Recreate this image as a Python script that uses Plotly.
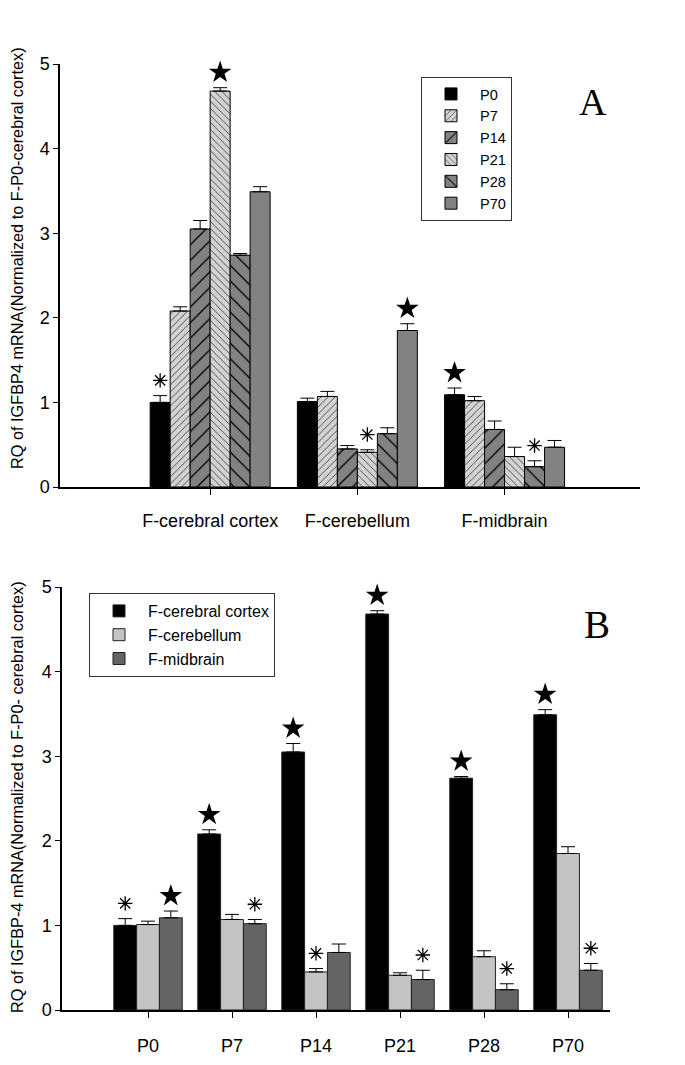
import plotly.graph_objects as go

# panel A: regions on the axis, one trace per age
regions = ["F-cerebral cortex", "F-cerebellum", "F-midbrain"]
ages = ["P0", "P7", "P14", "P21", "P28", "P70"]

# rows = region, cols = age
rq = [
    [1.00, 2.08, 3.05, 4.68, 2.74, 3.49],
    [1.01, 1.07, 0.45, 0.41, 0.63, 1.85],
    [1.09, 1.02, 0.68, 0.36, 0.24, 0.47],
]
err = [
    [0.08, 0.05, 0.10, 0.04, 0.02, 0.06],
    [0.04, 0.06, 0.04, 0.03, 0.07, 0.08],
    [0.08, 0.05, 0.10, 0.11, 0.07, 0.08],
]

# significance marks, panel A (same layout as rq)
sig_a = [
    ["ast", "", "", "star", "", ""],
    ["", "", "", "ast", "", "star"],
    ["star", "", "", "", "ast", ""],
]
# significance marks, panel B
sig_b = [
    ["ast", "star", "star", "star", "star", "star"],
    ["", "", "ast", "", "", ""],
    ["star", "ast", "", "ast", "ast", "ast"],
]

title_a = "RQ of IGFBP4 mRNA(Normalized to F-P0-cerebral cortex)"
title_b = "RQ of IGFBP-4 mRNA(Normalized to F-P0- cerebral cortex)"

age_fill = ["#000000", "#d2d2d2", "#828282", "#d2d2d2", "#828282", "#828282"]
age_shape = ["", "/", "/", "\\", "\\", ""]
age_size = [8, 5, 11, 5, 11, 8]
region_fill = ["#000000", "#c4c4c4", "#646464"]

GAP = 0.185
fig = go.Figure()


def offsets(n):
    w = (1 - GAP) / n
    return [(i - (n - 1) / 2) * w for i in range(n)]


def add_marks(xs, ys, kinds, xa, ya):
    for kind, sym, size, lw in [("star", "star", 17, 0), ("ast", "asterisk-open", 12, 1.3)]:
        px = [x for x, k in zip(xs, kinds) if k == kind]
        py = [y for y, k in zip(ys, kinds) if k == kind]
        if not px:
            continue
        fig.add_trace(go.Scatter(
            x=px, y=py, mode="markers", showlegend=False, hoverinfo="skip",
            xaxis=xa, yaxis=ya, cliponaxis=False,
            marker=dict(symbol=sym, size=size, color="black",
                        line=dict(color="black", width=lw)),
        ))


# ---- panel A
offA = offsets(len(ages))
for j, age in enumerate(ages):
    vals = [rq[i][j] for i in range(len(regions))]
    errs = [err[i][j] for i in range(len(regions))]
    fig.add_trace(go.Bar(
        x=list(range(len(regions))), y=vals, name=age, legend="legend",
        xaxis="x", yaxis="y",
        marker=dict(color=age_fill[j], line=dict(color="black", width=1),
                    pattern=dict(shape=age_shape[j], size=age_size[j], solidity=0.12,
                                 fgcolor="black", bgcolor=age_fill[j], fillmode="replace")),
        error_y=dict(type="data", symmetric=False, array=errs, arrayminus=[0] * len(errs),
                     color="black", thickness=1, width=7),
    ))
    xs = [i + offA[j] for i in range(len(regions))]
    ys = [v + e + 0.18 for v, e in zip(vals, errs)]
    add_marks(xs, ys, [sig_a[i][j] for i in range(len(regions))], "x", "y")

# ---- panel B
offB = offsets(len(regions))
for i, reg in enumerate(regions):
    fig.add_trace(go.Bar(
        x=list(range(len(ages))), y=rq[i], name=reg, legend="legend2",
        xaxis="x2", yaxis="y2",
        marker=dict(color=region_fill[i], line=dict(color="#222222", width=1)),
        error_y=dict(type="data", symmetric=False, array=err[i], arrayminus=[0] * len(ages),
                     color="black", thickness=1, width=7),
    ))
    xs = [j + offB[i] for j in range(len(ages))]
    ys = [v + e + 0.18 for v, e in zip(rq[i], err[i])]
    add_marks(xs, ys, sig_b[i], "x2", "y2")

W, H = 685, 1065
tickfont = dict(family="Liberation Sans, Arial", size=18, color="black")
ax_common = dict(showline=True, linecolor="black", linewidth=1.5, ticks="outside",
                 ticklen=6, tickcolor="black", showgrid=False, zeroline=False,
                 tickfont=tickfont, fixedrange=True, automargin=False)
y_common = {k: v for k, v in ax_common.items() if k != "ticklen"}

fig.update_layout(
    width=W, height=H, margin=dict(l=0, r=0, t=0, b=0, autoexpand=False),
    paper_bgcolor="white", plot_bgcolor="white",
    barmode="group", bargap=GAP, bargroupgap=0,
    font=dict(family="Liberation Sans, Arial", color="black"),
    xaxis=dict(domain=[60 / W, 640 / W], range=[-1.02, 2.92], anchor="y",
               tickvals=list(range(len(regions))), ticktext=regions,
               ticklabelstandoff=11, **ax_common),
    yaxis=dict(domain=[1 - 487 / H, 1 - 64 / H], range=[0, 5], anchor="x",
               dtick=1, ticklen=5, **y_common),
    xaxis2=dict(domain=[62 / W, 610 / W], range=[-1.024, 5.5], anchor="y2",
                tickvals=list(range(len(ages))), ticktext=ages,
                ticklabelstandoff=13, **ax_common),
    yaxis2=dict(domain=[1 - 1010 / H, 1 - 587 / H], range=[0, 5], anchor="x2",
                dtick=1, ticklen=5, **y_common),
    legend=dict(x=421 / W, y=1 - 77 / H, xanchor="left", yanchor="top",
                bordercolor="#333333", borderwidth=1, bgcolor="white",
                font=dict(size=14.5), tracegroupgap=0, itemwidth=48),
    legend2=dict(x=89 / W, y=1 - 593 / H, xanchor="left", yanchor="top",
                 bordercolor="#333333", borderwidth=1, bgcolor="white",
                 font=dict(size=16), itemwidth=48),
    annotations=[
        dict(text="A", x=593 / W, y=1 - 102 / H, xref="paper", yref="paper",
             xanchor="center", yanchor="middle",
             showarrow=False, font=dict(family="Liberation Serif, Times New Roman", size=38)),
        dict(text="B", x=597 / W, y=1 - 624 / H, xref="paper", yref="paper",
             xanchor="center", yanchor="middle",
             showarrow=False, font=dict(family="Liberation Serif, Times New Roman", size=39)),
        dict(text=title_a, x=17 / W, y=1 - 258 / H, xref="paper", yref="paper",
             xanchor="center", yanchor="middle", textangle=-90,
             showarrow=False, font=dict(size=16.3)),
        dict(text=title_b, x=17 / W, y=1 - 797 / H, xref="paper", yref="paper",
             xanchor="center", yanchor="middle", textangle=-90,
             showarrow=False, font=dict(size=16.3)),
    ],
)

page_fix = (
    "var d=document.getElementById('{plot_id}');"
    "d.style.position='absolute';d.style.top='0px';d.style.left='0px';"
    "document.body.style.margin='0';"
    "document.documentElement.style.overflow='hidden';"
)
fig.write_html("out.html", config={"displayModeBar": False}, post_script=page_fix)
